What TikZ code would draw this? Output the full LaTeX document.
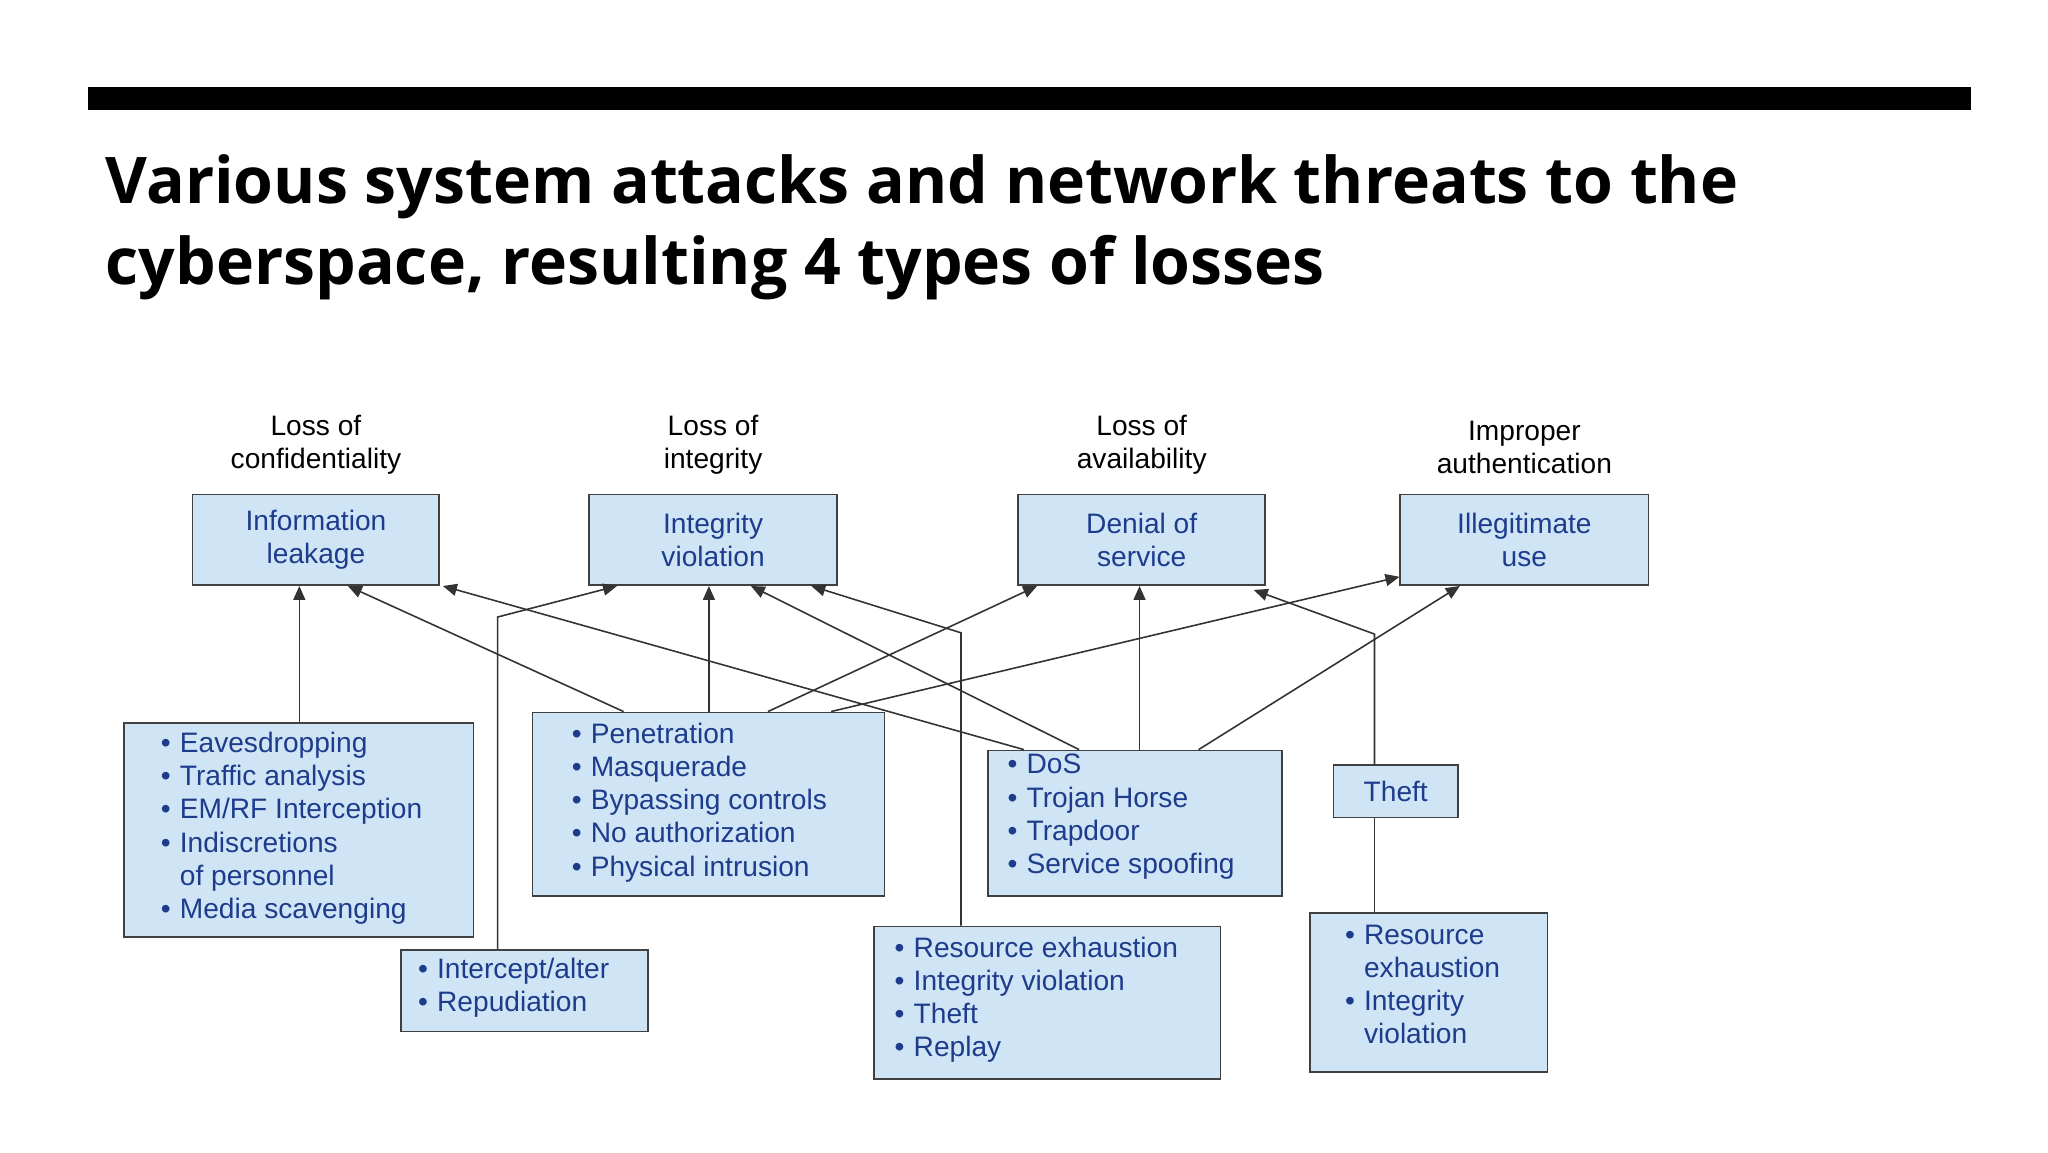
\documentclass[tikz,border=0pt]{standalone}
\usepackage{fontspec}
\setmainfont{Liberation Sans}
\newfontfamily\titlefont{Open Sans}
\usetikzlibrary{arrows.meta}
\definecolor{boxfill}{HTML}{CFE5F5}
\definecolor{boxtext}{HTML}{1E3C8C}
\newcommand{\bul}{\makebox[0.19cm][l]{\textbullet}}
\newcommand{\ind}{\hspace*{0.19cm}}
\newcommand{\uu}{0.013128cm}
\begin{document}
\begin{tikzpicture}[x=0.013128cm,y=-0.013128cm,
  box/.style 2 args={draw=black!75,line width=0.5pt,fill=boxfill,anchor=north west,inner sep=0,minimum width=#1*\uu,minimum height=#2*\uu},
  txt/.style={text=boxtext,font=\fontsize{8}{9.45}\selectfont,align=left,anchor=north west,inner sep=0},
  ctxt/.style={text=boxtext,font=\fontsize{8}{9.45}\selectfont,align=center},
  lbl/.style={font=\fontsize{8}{9.45}\selectfont,align=center,anchor=south},
  arr/.style={draw=black!80,line width=0.45pt,-{Triangle[length=1.4mm,width=1.2mm]}},
  ln/.style={draw=black!80,line width=0.45pt}]
\useasboundingbox (0,0) rectangle (1560,877.5);
\fill (67,66) rectangle (1501,84);
\node[anchor=base west,inner sep=0,font=\titlefont\bfseries\fontsize{18.3}{18.3}\selectfont] (t1) at (80,155) {Various system attacks and network threats to the};
\node[anchor=base west,inner sep=0,font=\titlefont\bfseries\fontsize{18.3}{18.3}\selectfont] (t2) at (80,217) {cyberspace, resulting 4 types of losses};
% top boxes
\node[box={188}{69}] (I) at (146,376) {};
\node[box={189}{69}] (V) at (448,376) {};
\node[box={188}{69}] (S) at (775,376) {};
\node[box={189}{69}] (L) at (1066,376) {};
\node[ctxt] (It) at (I.center) {Information\\leakage};
\node[ctxt] (Vt) at (V.center) {Integrity\\violation};
\node[ctxt] (St) at (S.center) {Denial of\\service};
\node[ctxt] (Lt) at (L.center) {Illegitimate\\use};
\node[lbl] (Il) at ([yshift=2pt]I.north) {Loss of\\confidentiality};
\node[lbl] (Vl) at ([yshift=2pt]V.north) {Loss of\\integrity};
\node[lbl] (Sl) at ([yshift=2pt]S.north) {Loss of\\availability};
\node[lbl] (Ll) at ([yshift=2pt]L.north) {Improper\\authentication};
% lower boxes
\node[box={266}{163}] (A) at (94,550) {};
\node[box={268}{140}] (B) at (405,542) {};
\node[box={224}{111}] (C) at (752,571) {};
\node[box={95}{40}] (D) at (1015,582) {};
\node[box={188}{62}] (E) at (305,723) {};
\node[box={264}{116}] (F) at (665,705) {};
\node[box={181}{121}] (G) at (997,695) {};
\node[txt] (At) at (122,557) {\bul Eavesdropping\\\bul Traffic analysis\\\bul EM/RF Interception\\\bul Indiscretions\\\ind of personnel\\\bul Media scavenging};
\node[txt] (Bt) at (435,550) {\bul Penetration\\\bul Masquerade\\\bul Bypassing controls\\\bul No authorization\\\bul Physical intrusion};
\node[txt] (Ct) at (767,574) {\bul DoS\\\bul Trojan Horse\\\bul Trapdoor\\\bul Service spoofing};
\node[ctxt] (Dt) at (D.center) {Theft};
\node[txt] (Et) at (318,729) {\bul Intercept/alter\\\bul Repudiation};
\node[txt] (Ft) at (681,713) {\bul Resource exhaustion\\\bul Integrity violation\\\bul Theft\\\bul Replay};
\node[txt] (Gt) at (1024,704) {\bul Resource\\\ind exhaustion\\\bul Integrity\\\ind violation};
% connectors
\coordinate (e1) at (379,470);
\coordinate (f1) at (732,482);
\coordinate (d1) at (1047,483);
\draw[arr] ([xshift=134*\uu]A.north west) -- ([xshift=82*\uu]I.south west);
\draw[arr] ([xshift=70*\uu]B.north west) -- ([xshift=119*\uu]I.south west);
\draw[arr] ([xshift=28*\uu]C.north west) -- ([xshift=2*\uu]I.south east);
\draw[arr] ([xshift=74*\uu]E.north west) -- (e1) -- ([xshift=22*\uu]V.south west);
\draw[arr] ([xshift=135*\uu]B.north west) -- ([xshift=92*\uu]V.south west);
\draw[arr] ([xshift=67*\uu]F.north west) -- (f1) -- ([xshift=170*\uu]V.south west);
\draw[arr] ([xshift=70*\uu]C.north west) -- ([xshift=124*\uu]V.south west);
\draw[arr] ([xshift=180*\uu]B.north west) -- ([xshift=15*\uu]S.south west);
\draw[arr] ([xshift=116*\uu]C.north west) -- ([xshift=93*\uu]S.south west);
\draw[arr] ([xshift=32*\uu]D.north west) -- (d1) -- ([xshift=180*\uu,yshift=-3*\uu]S.south west);
\draw[ln] ([xshift=32*\uu]D.south west) -- ([xshift=50*\uu]G.north west);
\draw[arr] ([xshift=228*\uu]B.north west) -- ([yshift=7*\uu]L.south west);
\draw[arr] ([xshift=161*\uu]C.north west) -- ([xshift=46*\uu]L.south west);
\end{tikzpicture}
\end{document}
